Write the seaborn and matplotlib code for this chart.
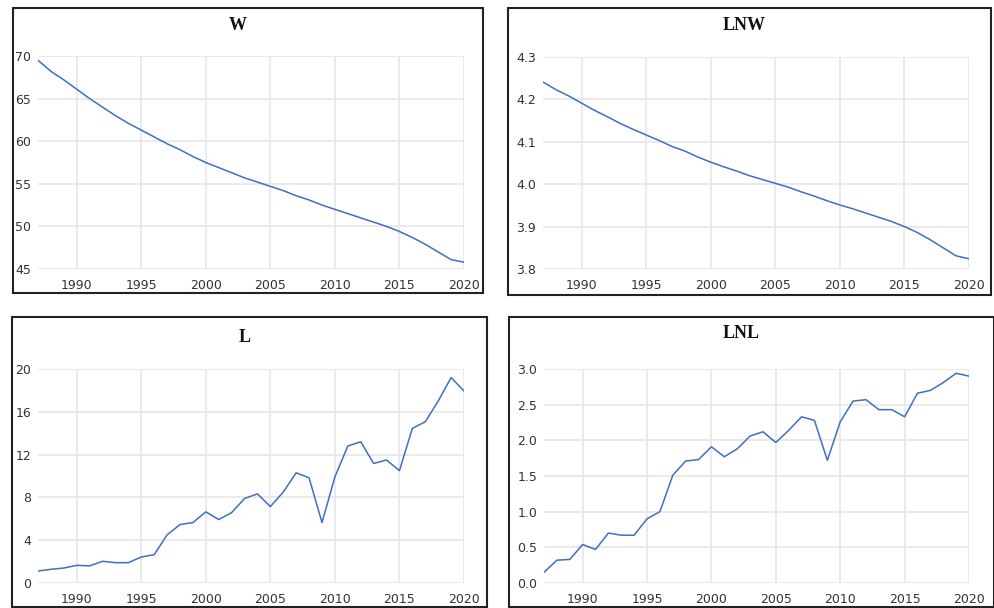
import matplotlib
matplotlib.use("Agg")
import matplotlib.pyplot as plt
import numpy as np
import pandas as pd
import seaborn as sns
from matplotlib.patches import Rectangle

sns.set_theme(style="white")
plt.rcParams["font.family"] = ["DejaVu Sans"]

# ---------------------------------------------------------------
# Data (annual 1987-2020)
# ---------------------------------------------------------------
years = list(range(1987, 2021))

w_values = [69.5, 68.2, 67.2, 66.1, 65.0, 64.0, 63.0, 62.1, 61.3, 60.5,
            59.7, 59.0, 58.2, 57.5, 56.9, 56.3, 55.7, 55.2, 54.7, 54.2,
            53.6, 53.1, 52.5, 52.0, 51.5, 51.0, 50.5, 50.0, 49.4, 48.7,
            47.9, 47.0, 46.1, 45.8]

lnw_values = [4.241, 4.223, 4.208, 4.191, 4.174, 4.159, 4.143, 4.129, 4.116, 4.103,
              4.089, 4.078, 4.064, 4.052, 4.041, 4.031, 4.020, 4.011, 4.002, 3.993,
              3.982, 3.972, 3.961, 3.951, 3.942, 3.932, 3.922, 3.912, 3.900, 3.886,
              3.869, 3.850, 3.831, 3.824]

l_values = [1.12, 1.28, 1.40, 1.65, 1.60, 2.03, 1.90, 1.90, 2.43, 2.65,
            4.50, 5.46, 5.65, 6.65, 5.93, 6.58, 7.90, 8.33, 7.14, 8.50,
            10.30, 9.83, 5.65, 9.92, 12.80, 13.20, 11.17, 11.50, 10.50, 14.45,
            15.07, 17.00, 19.20, 17.94]

lnl_values = [0.15, 0.32, 0.33, 0.54, 0.47, 0.70, 0.67, 0.67, 0.90, 1.00,
              1.51, 1.71, 1.73, 1.91, 1.77, 1.88, 2.06, 2.12, 1.97, 2.14,
              2.33, 2.28, 1.72, 2.26, 2.55, 2.57, 2.43, 2.43, 2.33, 2.66,
              2.70, 2.81, 2.94, 2.90]

titles = ["W", "LNW", "L", "LNL"]
series = [w_values, lnw_values, l_values, lnl_values]
y_ticks = [[45, 50, 55, 60, 65, 70],
           [3.8, 3.9, 4.0, 4.1, 4.2, 4.3],
           [0, 4, 8, 12, 16, 20],
           [0.0, 0.5, 1.0, 1.5, 2.0, 2.5, 3.0]]
y_labels = [["45", "50", "55", "60", "65", "70"],
            ["3.8", "3.9", "4.0", "4.1", "4.2", "4.3"],
            ["0", "4", "8", "12", "16", "20"],
            ["0.0", "0.5", "1.0", "1.5", "2.0", "2.5", "3.0"]]
x_ticks = [1990, 1995, 2000, 2005, 2010, 2015, 2020]

# ---------------------------------------------------------------
# Layout (pixel boxes, figure is 995 x 608)
# ---------------------------------------------------------------
W, H = 995, 608
fig = plt.figure(figsize=(W / 100, H / 100), dpi=100)
fig.patch.set_facecolor("white")

# plot areas: left, right, top, bottom (pixels from top-left)
plot_boxes = [(38, 464, 56, 269),
              (543, 969, 57, 269),
              (38, 464, 369, 583),
              (544, 969, 369, 583)]
# outer frames
frames = [(13, 483, 8, 293),
          (508, 991, 8, 295),
          (12, 487, 317, 607),
          (509, 994, 317, 607)]
title_pos = [(238, 25), (744, 25), (245, 337), (741, 333)]

line_color = "#3d6fc2"

for i in range(4):
    l, r, t, b = plot_boxes[i]
    ax = fig.add_axes([l / W, 1 - b / H, (r - l) / W, (b - t) / H])
    df = pd.DataFrame({"year": years, "value": series[i]})
    sns.lineplot(data=df, x="year", y="value", ax=ax, color=line_color, linewidth=1.1)

    ax.set_xlim(1987, 2020)
    ax.set_ylim(y_ticks[i][0], y_ticks[i][-1])
    ax.set_xticks(x_ticks)
    ax.set_xticklabels([str(x) for x in x_ticks])
    ax.set_yticks(y_ticks[i])
    ax.set_yticklabels(y_labels[i])
    ax.set_xlabel("")
    ax.set_ylabel("")
    ax.grid(True, color="#e8e8e8", linewidth=1.3)
    ax.set_axisbelow(True)
    for s in ax.spines.values():
        s.set_visible(False)
    ax.tick_params(axis="both", length=0, labelsize=9, colors="#333333")
    ax.tick_params(axis="x", pad=7)
    ax.tick_params(axis="y", pad=5)
    ax.set_facecolor("white")

    # outer frame around each panel
    fl, fr, ft, fb = frames[i]
    fig.patches.append(Rectangle((fl / W, 1 - fb / H), (fr - fl) / W, (fb - ft) / H,
                                 transform=fig.transFigure, fill=False,
                                 edgecolor="#222222", linewidth=1.5, zorder=10))

    tx, ty = title_pos[i]
    fig.text(tx / W, 1 - ty / H, titles[i], ha="center", va="center",
             fontsize=13, fontweight="bold", family=["Liberation Serif"],
             color="#111111")

fig.savefig("out.png", dpi=100, facecolor="white")
